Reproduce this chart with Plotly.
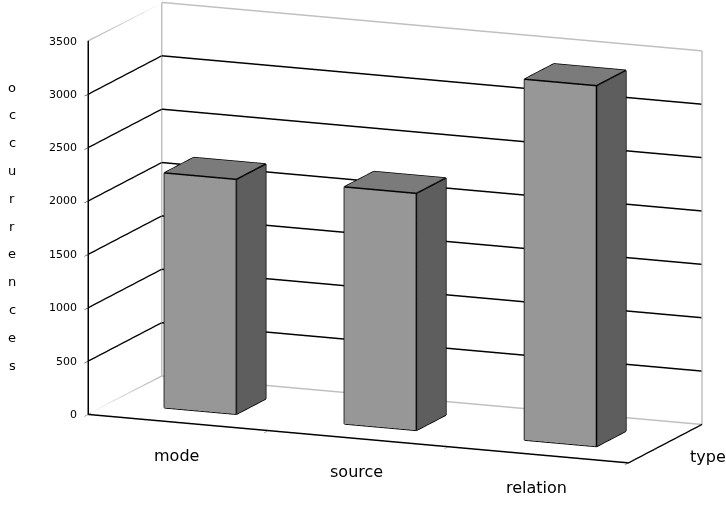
import math
import plotly.graph_objects as go

# Data
categories = ["mode", "source", "relation"]
occurrences = [2200, 2220, 3380]
z_ticks = [0, 500, 1000, 1500, 2000, 2500, 3000, 3500]
axis_title = "occurrences"
depth_title = "type"

# Geometry / style
BAR_W = 0.4            # bar width in category units
DEPTH = (0.30, 0.70)   # bar extent along the series (depth) axis
X_RANGE = [-0.5, len(categories) - 0.5]
Y_RANGE = [0, 1]
Z_RANGE = [z_ticks[0], z_ticks[-1]]
FRONT, TOP, SIDE = "#979797", "#7b7b7b", "#5e5e5e"
FONT = "DejaVu Sans"
W, H = 726, 512
MARGIN = dict(l=0, r=0, t=0, b=0)
ASPECT = dict(x=2.284, y=0.75, z=1.495)

# view: rotation / elevation of the 3-D box, and a shift of the look-at point
ROT, ELEV, DIST = math.radians(22.5), math.radians(12.5), 6.0
PX_PER_UNIT = 263.0
SHIFT_RIGHT, SHIFT_UP = 33.0, 24.0   # screen offset of the box centre, in px
right = (math.cos(ROT), math.sin(ROT), 0.0)
up = (-math.sin(ROT) * math.sin(ELEV), math.cos(ROT) * math.sin(ELEV), math.cos(ELEV))
center = [-(SHIFT_RIGHT * r + SHIFT_UP * u) / PX_PER_UNIT for r, u in zip(right, up)]
view_dir = (math.sin(ROT) * math.cos(ELEV), -math.cos(ROT) * math.cos(ELEV), math.sin(ELEV))
eye = [c + DIST * d for c, d in zip(center, view_dir)]

fig = go.Figure()


def box_mesh(xc, v):
    x0, x1 = xc - BAR_W / 2, xc + BAR_W / 2
    y0, y1 = DEPTH
    xs = [x0, x1, x1, x0, x0, x1, x1, x0]
    ys = [y0, y0, y1, y1, y0, y0, y1, y1]
    zs = [0, 0, 0, 0, v, v, v, v]
    tri = [
        (0, 1, 5, FRONT), (0, 5, 4, FRONT),
        (1, 2, 6, SIDE), (1, 6, 5, SIDE),
        (4, 5, 6, TOP), (4, 6, 7, TOP),
        (3, 2, 6, SIDE), (3, 6, 7, SIDE),
        (0, 3, 7, FRONT), (0, 7, 4, FRONT),
        (0, 1, 2, SIDE), (0, 2, 3, SIDE),
    ]
    mesh = go.Mesh3d(
        x=xs, y=ys, z=zs,
        i=[t[0] for t in tri], j=[t[1] for t in tri], k=[t[2] for t in tri],
        facecolor=[t[3] for t in tri],
        flatshading=True,
        lighting=dict(ambient=1.0, diffuse=0.0, specular=0.0, roughness=1.0, fresnel=0.0),
        hoverinfo="skip", showscale=False,
    )
    edges = [(0, 1), (1, 2), (2, 3), (3, 0), (4, 5), (5, 6), (6, 7), (7, 4),
             (0, 4), (1, 5), (2, 6), (3, 7)]
    ex, ey, ez = [], [], []
    for a, b in edges:
        ex += [xs[a], xs[b], None]
        ey += [ys[a], ys[b], None]
        ez += [zs[a], zs[b], None]
    outline = go.Scatter3d(x=ex, y=ey, z=ez, mode="lines",
                           line=dict(color="black", width=3),
                           hoverinfo="skip", showlegend=False)
    return mesh, outline


for idx, val in enumerate(occurrences):
    m, o = box_mesh(idx, val)
    fig.add_trace(m)
    fig.add_trace(o)

# light grey frame edges of the walls and floor
xa, xb = X_RANGE
ya, yb = Y_RANGE
za, zb = Z_RANGE
fx = [xa, xb, None, xa, xa, None, xa, xa, None, xb, xb, None, xa, xb, None, xa, xa]
fy = [yb, yb, None, ya, yb, None, yb, yb, None, yb, yb, None, yb, yb, None, ya, yb]
fz = [zb, zb, None, zb, zb, None, za, zb, None, za, zb, None, za, za, None, za, za]
fig.add_trace(go.Scatter3d(x=fx, y=fy, z=fz, mode="lines",
                           line=dict(color="#c0c0c0", width=3),
                           hoverinfo="skip", showlegend=False))

# category labels in front of the floor
annotations = []
for idx, name in enumerate(categories):
    annotations.append(dict(x=idx, y=Y_RANGE[0], z=0, text=name, showarrow=False,
                            yshift=-33, xshift=-2,
                            font=dict(family=FONT, size=16, color="black")))
annotations.append(dict(x=X_RANGE[1], y=sum(Y_RANGE) / 2, z=0, text=depth_title,
                        showarrow=False, xshift=43, yshift=-13,
                        font=dict(family=FONT, size=16, color="black")))
# value labels along the front-left vertical edge (kept just inside the range)
z_in = Z_RANGE[1] - 1e-3 * (Z_RANGE[1] - Z_RANGE[0])
for t in z_ticks:
    annotations.append(dict(x=X_RANGE[0], y=Y_RANGE[0], z=min(t, z_in), text=str(t),
                            showarrow=False, xanchor="right", xshift=-9,
                            font=dict(family=FONT, size=11, color="black")))

axis_common = dict(showbackground=False, showspikes=False, zeroline=False,
                   title=dict(text=""), linecolor="black", linewidth=3)

fig.update_layout(
    width=W, height=H,
    margin=MARGIN,
    paper_bgcolor="white",
    showlegend=False,
    scene=dict(
        domain=dict(x=[0, 1], y=[0, 1]),
        xaxis=dict(range=X_RANGE, showgrid=False, showline=True,
                   tickvals=[-0.5, 0.5, 1.5, 2.5], ticktext=["", "", "", ""],
                   ticks="outside", ticklen=8, tickcolor="black", **axis_common),
        yaxis=dict(range=Y_RANGE, showgrid=False, showline=True,
                   showticklabels=False, ticks="", **axis_common),
        zaxis=dict(range=Z_RANGE, tickvals=z_ticks[1:-1], showgrid=True,
                   gridcolor="black", gridwidth=3, showline=True,
                   showticklabels=False,
                   ticks="outside", ticklen=8, tickcolor="black",
                   **axis_common),
        aspectmode="manual",
        aspectratio=ASPECT,
        camera=dict(
            projection=dict(type="orthographic"),
            eye=dict(x=eye[0], y=eye[1], z=eye[2]),
            center=dict(x=center[0], y=center[1], z=center[2]),
            up=dict(x=0, y=0, z=1),
        ),
        annotations=annotations,
    ),
)

# stacked vertical axis title (pixel rows converted to paper coordinates)
n = len(axis_title)
pw = W - MARGIN["l"] - MARGIN["r"]
ph = H - MARGIN["t"] - MARGIN["b"]
for k, ch in enumerate(axis_title):
    py = 87 + k * (365 - 87) / (n - 1)
    fig.add_annotation(x=(12 - MARGIN["l"]) / pw, y=1 - (py - MARGIN["t"]) / ph,
                       xref="paper", yref="paper", xanchor="center", yanchor="middle",
                       text=ch, showarrow=False,
                       font=dict(family=FONT, size=13, color="black"))

fig.write_html("out.html")
